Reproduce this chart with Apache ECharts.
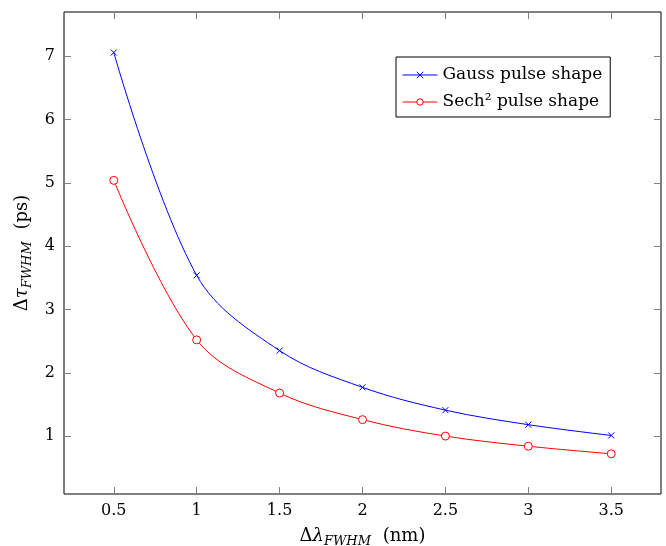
<!DOCTYPE html>
<html>
<head>
<meta charset="utf-8">
<script src="https://cdn.jsdelivr.net/npm/echarts@6/dist/echarts.min.js"></script>
<style>html,body{margin:0;padding:0;background:#fff}#c{width:666px;height:546px}</style>
</head>
<body>
<div id="c"></div>
<script>
const xValues = [0.5, 1, 1.5, 2, 2.5, 3, 3.5];
const gauss = [7.06, 3.54, 2.35, 1.77, 1.41, 1.18, 1.01];
const sech = [5.04, 2.52, 1.68, 1.26, 1.00, 0.84, 0.72];
const xTicks = [0.5, 1, 1.5, 2, 2.5, 3, 3.5];
const yTicks = [1, 2, 3, 4, 5, 6, 7];
const seriesNames = ['Gauss pulse shape', 'Sech\u00B2 pulse shape'];

const FONT = 'DejaVu Serif';
const chart = echarts.init(document.getElementById('c'), null, {renderer: 'canvas'});
const tickStyle = {show: true, inside: true, length: 7, lineStyle: {color: '#808080', width: 1}};
const rich = {
  m: {fontFamily: FONT, fontSize: 18, color: '#000'},
  i: {fontFamily: FONT, fontSize: 18, fontStyle: 'italic', color: '#000'},
  s: {fontFamily: FONT, fontSize: 13, fontStyle: 'italic', color: '#000', padding: [10, 0, 0, 0]},
  g: {fontFamily: FONT, fontSize: 18, width: 6}
};
chart.setOption({
  animation: false,
  backgroundColor: '#fff',
  grid: {left: 64, right: 5, top: 12, bottom: 52, outerBoundsMode: 'none', containLabel: false,
         show: true, borderColor: '#000', borderWidth: 1, backgroundColor: 'transparent'},
  legend: {
    orient: 'vertical', left: 396, top: 57,
    data: seriesNames,
    borderColor: '#000', borderWidth: 1, padding: [8, 8, 5, 6],
    itemWidth: 35, itemHeight: 8, itemGap: 7,
    itemStyle: {borderWidth: 1},
    lineStyle: {width: 1},
    textStyle: {fontFamily: FONT, fontSize: 17, lineHeight: 20, color: '#000'}
  },
  xAxis: [{
    type: 'value', min: 0.2, max: 3.8, position: 'bottom',
    splitLine: {show: false}, axisLine: {show: false},
    axisTick: Object.assign({customValues: xTicks}, tickStyle),
    axisLabel: {customValues: xTicks, margin: 9, fontFamily: FONT, fontSize: 16, color: '#000'},
    name: '{m|\u0394}{i|\u03BB}{s|FWHM}{g|}{m| (nm)}', nameLocation: 'middle', nameGap: 31,
    nameTextStyle: {rich: rich}
  }, {
    type: 'value', min: 0.2, max: 3.8, position: 'top',
    splitLine: {show: false}, axisLine: {show: false},
    axisTick: Object.assign({customValues: xTicks}, tickStyle),
    axisLabel: {show: false}
  }],
  yAxis: [{
    type: 'value', min: 0.085, max: 7.7, position: 'left',
    splitLine: {show: false}, axisLine: {show: false},
    axisTick: Object.assign({customValues: yTicks}, tickStyle),
    axisLabel: {customValues: yTicks, margin: 9, fontFamily: FONT, fontSize: 16, color: '#000'},
    name: '{m|\u0394}{i|\u03C4}{s|FWHM}{g|}{m| (ps)}', nameLocation: 'middle', nameGap: 29, nameRotate: 90,
    nameTextStyle: {rich: rich}
  }, {
    type: 'value', min: 0.085, max: 7.7, position: 'right',
    splitLine: {show: false}, axisLine: {show: false},
    axisTick: Object.assign({customValues: yTicks}, tickStyle),
    axisLabel: {show: false}
  }],
  series: [{
    name: seriesNames[0], type: 'line', smooth: 0.35,
    data: xValues.map((x, k) => [x, gauss[k]]),
    symbol: 'path://M0,0L10,10M10,0L0,10', symbolSize: 6,
    itemStyle: {color: '#0000ff', borderColor: '#0000ff', borderWidth: 1},
    lineStyle: {color: '#0000ff', width: 1}
  }, {
    name: seriesNames[1], type: 'line', smooth: 0.35,
    data: xValues.map((x, k) => [x, sech[k]]),
    symbol: 'circle', symbolSize: 8,
    itemStyle: {color: '#ffffff', borderColor: '#ff0000', borderWidth: 1},
    lineStyle: {color: '#ff0000', width: 1}
  }]
});
</script>
</body>
</html>
